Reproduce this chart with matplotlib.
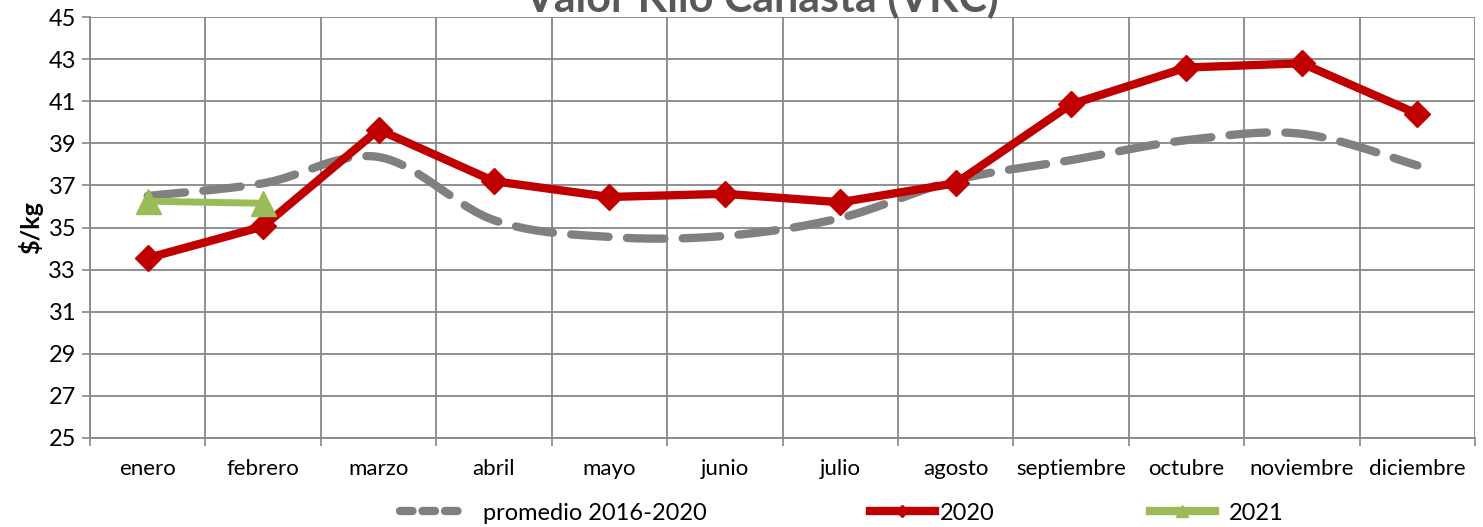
import numpy as np
import matplotlib
matplotlib.use("Agg")
import matplotlib.pyplot as plt
from matplotlib.lines import Line2D

months = ["enero", "febrero", "marzo", "abril", "mayo", "junio", "julio",
          "agosto", "septiembre", "octubre", "noviembre", "diciembre"]
promedio = [36.5, 37.1, 38.35, 35.35, 34.55, 34.6, 35.45, 37.25, 38.2, 39.15, 39.45, 37.95]
v2020 = [33.55, 35.05, 39.65, 37.2, 36.45, 36.6, 36.2, 37.1, 40.85, 42.6, 42.8, 40.4]
v2021 = [36.25, 36.15]
yticks = list(range(25, 46, 2))

plt.rcParams['font.family'] = ['Lato', 'DejaVu Sans']

def catmull_rom(x, y, n=30):
    x = np.asarray(x, float); y = np.asarray(y, float)
    P = np.column_stack([x, y])
    P = np.vstack([P[0], P, P[-1]])
    out = []
    for i in range(1, len(P) - 2):
        p0, p1, p2, p3 = P[i - 1], P[i], P[i + 1], P[i + 2]
        t = np.linspace(0, 1, n, endpoint=(i == len(P) - 3))[:, None]
        b1 = p1 + (p2 - p0) / 6
        b2 = p2 - (p3 - p1) / 6
        seg = ((1 - t) ** 3) * p1 + 3 * ((1 - t) ** 2) * t * b1 + 3 * (1 - t) * t ** 2 * b2 + t ** 3 * p2
        out.append(seg)
    out = np.vstack(out)
    return out[:, 0], out[:, 1]

W, H = 1483, 527
fig = plt.figure(figsize=(W / 100, H / 100), dpi=100)
ax = fig.add_axes([90 / W, 1 - 438 / H, (1475 - 90) / W, (438 - 17) / H])

x = np.arange(len(months))
gx, gy = catmull_rom(x, promedio)
ax.plot(gx, gy, color="#808080", lw=6, dashes=(4.5, 2.2), dash_capstyle="round",
        solid_capstyle="round", zorder=3)
ax.plot(x, v2020, color="#C00000", lw=6, marker="D", ms=13, zorder=4)
ax.plot(x[:len(v2021)], v2021, color="#9BBB59", lw=5, marker="^", ms=18, zorder=5)

ax.set_xlim(-0.5, len(months) - 0.5)
ax.set_ylim(25, 45)
ax.set_yticks(yticks)
ax.set_xticks(np.arange(-0.5, len(months), 1.0))
ax.set_xticklabels([])
ax.set_xticks(x, minor=True)
ax.set_xticklabels(months, minor=True)
ax.tick_params(axis="x", which="minor", length=0, pad=15, labelsize=16)
ax.tick_params(axis="x", which="major", length=6, width=1.2, color="#878787")
ax.tick_params(axis="y", length=6, width=1.2, color="#878787", labelsize=17, pad=4)
ax.grid(True, which="major", color="#878787", lw=1.3)
ax.set_axisbelow(True)
for s in ["top", "right"]:
    ax.spines[s].set_visible(False)
for s in ["left", "bottom"]:
    ax.spines[s].set_color("#878787")
    ax.spines[s].set_linewidth(1.3)

ax.set_ylabel(r"\$/kg", fontsize=18, fontweight="bold", labelpad=4)

fig.text(762 / W, 1 - 12 / H, "Valor Kilo Canasta (VKC)", ha="center", va="baseline",
         fontsize=31, fontweight="bold", color="#595959")

entries = [
    (Line2D([], [], color="#808080", lw=6, dashes=(1.5, 1.2), dash_capstyle="round"),
     "promedio 2016-2020", 400, 0.75),
    (Line2D([], [], color="#C00000", lw=6, marker="D", ms=6), "2020", 870, 0.2),
    (Line2D([], [], color="#9BBB59", lw=6, marker="^", ms=9), "2021", 1150, 0.6),
]
for h, lab, px, pad in entries:
    fig.legend([h], [lab], loc="center left", bbox_to_anchor=(px / W, 1 - 513 / H),
               frameon=False, fontsize=17, handlelength=2.75, handletextpad=pad,
               borderpad=0, borderaxespad=0)

fig.savefig("out.png", dpi=100)
